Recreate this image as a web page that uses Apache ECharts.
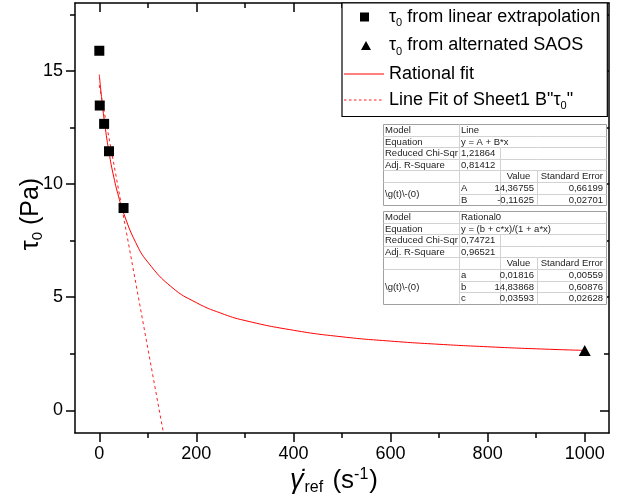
<!DOCTYPE html>
<html>
<head>
<meta charset="utf-8">
<script src="https://cdn.jsdelivr.net/npm/echarts@6/dist/echarts.min.js"></script>
<style>html,body{margin:0;padding:0;background:#fff}#c{width:620px;height:498px}</style>
</head>
<body>
<div id="c"></div>
<script>
// ---- data ----
const linX = [0.1, 1, 10, 20, 50];
const linY = [15.89, 13.47, 12.66, 11.45, 8.94];
const saosX = [1000];
const saosY = [2.64];
const ratX = [0, 5, 10, 20, 30, 40, 50, 75, 100, 150, 200, 250, 300, 400, 500, 600, 700, 800, 900, 1000];
const ratY = [14.84, 13.77, 12.86, 11.41, 10.30, 9.43, 8.72, 7.42, 6.55, 5.43, 4.76, 4.30, 3.97, 3.54, 3.25, 3.06, 2.92, 2.81, 2.72, 2.65];
const fitX = [0, 132.2];
const fitY = [14.37, -1.0];
const xMajor = [0, 200, 400, 600, 800, 1000];
const xMinor = [100, 300, 500, 700, 900];
const yMajor = [0, 5, 10, 15];
const yMinor = [2.5, 7.5, 12.5, 17.5];
const tableLine = [
  ['Model', 'Line', null, null],
  ['Equation', 'y = A + B*x', null, null],
  ['Reduced Chi-Sqr', '1,21864', '', null],
  ['Adj. R-Square', '0,81412', '', null],
  ['', '', 'Value', 'Standard Error'],
  ['\\g(t)\\-(0)', 'A', '14,36755', '0,66199'],
  ['^', 'B', '-0,11625', '0,02701']
];
const tableRational = [
  ['Model', 'Rational0', null, null],
  ['Equation', 'y = (b + c*x)/(1 + a*x)', null, null],
  ['Reduced Chi-Sqr', '0,74721', '', null],
  ['Adj. R-Square', '0,96521', '', null],
  ['', '', 'Value', 'Standard Error'],
  ['\\g(t)\\-(0)', 'a', '0,01816', '0,00559'],
  ['^', 'b', '14,83868', '0,60876'],
  ['^', 'c', '0,03593', '0,02628']
];

const FONT = '"Liberation Sans", Arial, sans-serif';
const zip = (a, b) => a.map((v, i) => [v, b[i]]);

// ---- tables as graphic ----
const colX = [383, 459, 500, 537, 606];
const rowH = 11.6;
function buildTable(rows, top) {
  const els = [];
  const n = rows.length;
  const px = v => Math.round(v) + 0.5;
  els.push({type: 'rect', z: 100, shape: {x: px(colX[0]), y: px(top), width: colX[4] - colX[0], height: Math.round(n * rowH)},
    style: {fill: '#fff', stroke: '#a0a0a0', lineWidth: 1}});
  for (let r = 0; r < n; r++) {
    const y0 = top + r * rowH;
    for (let c = 1; c < 4; c++) {
      if (rows[r][c] !== null) {
        els.push({type: 'line', z: 101, shape: {x1: px(colX[c]), y1: px(y0), x2: px(colX[c]), y2: px(y0 + rowH)},
          style: {stroke: '#d2d2d2', lineWidth: 1}});
      }
    }
    if (r > 0) {
      for (let c = 0; c < 4; c++) {
        if (rows[r][c] !== '^') {
          els.push({type: 'line', z: 101, shape: {x1: px(colX[c]), y1: px(y0), x2: px(colX[c + 1]), y2: px(y0)},
            style: {stroke: '#d2d2d2', lineWidth: 1}});
        }
      }
    }
    for (let c = 0; c < 4; c++) {
      const t = rows[r][c];
      if (t === null || t === '^' || t === '') continue;
      let cs = 1; while (c + cs < 4 && rows[r][c + cs] === null) cs++;
      let rs = 1; while (r + rs < n && rows[r + rs][c] === '^') rs++;
      let x, align;
      if (c <= 1) { x = colX[c] + 2; align = 'left'; }
      else if (t === 'Value') { x = (colX[c] + colX[c + cs]) / 2; align = 'center'; }
      else { x = colX[c + cs] - 3; align = 'right'; }
      els.push({type: 'text', z: 102, style: {text: t, x: x, y: y0 + rs * rowH / 2 + 0.5, font: '9.5px ' + FONT,
        fill: '#222', align: align, verticalAlign: 'middle'}});
    }
  }
  return els;
}

// ---- legend icons (40 x 9 boxes, corner anchors keep the box) ----
const ANCH = 'M0,0L0.01,0M40,9L39.99,9';
const iconSquare = 'path://' + ANCH + 'M16,0L25,0L25,9L16,9Z';
const iconTri = 'path://' + ANCH + 'M22,0L27,9L17,9Z';
const iconLine = 'path://' + ANCH + 'M0,4L40,4L40,5L0,5Z';
let dash = '';
for (let x = 0; x < 40; x += 5) dash += 'M' + x + ',4L' + (x + 2.5) + ',4L' + (x + 2.5) + ',5L' + x + ',5Z';
const iconDash = 'path://' + ANCH + dash;

const legendRich = {
  n: {fontSize: 18, lineHeight: 24, fontFamily: FONT, color: '#000'},
  s: {fontSize: 11, padding: [12, 0, 0, 0], fontFamily: FONT, color: '#000'}
};
const legendText = {
  lin: '{n|τ}{s|0}{n| from linear extrapolation}',
  saos: '{n|τ}{s|0}{n| from alternated SAOS}',
  rat: '{n|Rational fit}',
  fit: '{n|Line Fit of Sheet1 B"τ}{s|0}{n|"}'
};

const axisLineStyle = {show: true, onZero: false, lineStyle: {color: '#000', width: 1.5}};
function tickAxis(kind, pos, vals, len, inside, main) {
  return {
    type: 'value', position: pos,
    min: kind === 'x' ? -50 : -1, max: kind === 'x' ? 1050 : 18,
    splitLine: {show: false},
    axisLine: main ? axisLineStyle : {show: false, onZero: false},
    axisTick: {show: true, inside: inside, length: len, customValues: vals, lineStyle: {color: '#000', width: 1.5}},
    axisLabel: {show: false}
  };
}
const xAxes = [
  tickAxis('x', 'bottom', xMajor, 9, false, true),
  tickAxis('x', 'bottom', xMinor, 5, false, false),
  tickAxis('x', 'top', xMajor, 9, true, true),
  tickAxis('x', 'top', xMinor, 5, true, false)
];
xAxes[0].axisLabel = {show: true, customValues: xMajor, formatter: v => String(v), fontSize: 18, fontFamily: FONT, color: '#000', margin: 12};
xAxes[0].name = '{g|γ\u0307}{sub|ref}{n| (s}{sup|-1}{n|)}';
xAxes[0].nameLocation = 'middle';
xAxes[0].nameGap = 32;
xAxes[0].nameMoveOverlap = false;
xAxes[0].nameTextStyle = {
  padding: [0, 16, 0, 0],
  rich: {
    g: {fontSize: 27, fontStyle: 'italic', fontFamily: FONT, color: '#000', lineHeight: 30},
    n: {fontSize: 26, fontFamily: FONT, color: '#000', lineHeight: 30},
    sub: {fontSize: 16, fontFamily: FONT, color: '#000', padding: [15, 2, 0, 1]},
    sup: {fontSize: 16, fontFamily: FONT, color: '#000', padding: [0, 1, 12, 0]}
  }
};
const yAxes = [
  tickAxis('y', 'left', yMajor, 9, false, true),
  tickAxis('y', 'left', yMinor, 5, false, false),
  tickAxis('y', 'right', yMajor, 9, true, true),
  tickAxis('y', 'right', yMinor, 5, true, false)
];
yAxes[0].axisLabel = {show: true, customValues: yMajor, formatter: v => String(v), fontSize: 18, fontFamily: FONT, color: '#000', margin: 12};
yAxes[0].name = '{n|τ}{sub|0}{n| (Pa)}';
yAxes[0].nameLocation = 'middle';
yAxes[0].nameGap = 29;
yAxes[0].nameMoveOverlap = false;
yAxes[0].nameTextStyle = {
  padding: [0, 0, 0, 8],
  rich: {
    n: {fontSize: 25, fontFamily: FONT, color: '#000', lineHeight: 30},
    sub: {fontSize: 15, fontFamily: FONT, color: '#000', padding: [14, 0, 0, 0]}
  }
};

const chart = echarts.init(document.getElementById('c'), null, {renderer: 'canvas'});
chart.setOption({
  animation: false,
  backgroundColor: '#fff',
  grid: {left: 75, right: 11, top: 3, bottom: 65, containLabel: false, outerBoundsMode: 'none'},
  xAxis: xAxes,
  yAxis: yAxes,
  legend: {
    data: [
      {name: 'lin', icon: iconSquare},
      {name: 'saos', icon: iconTri},
      {name: 'rat', icon: iconLine},
      {name: 'fit', icon: iconDash}
    ],
    orient: 'vertical', left: 342, top: 3,
    padding: [5, 7, 5, 2], itemGap: 8, itemWidth: 40, itemHeight: 9,
    backgroundColor: '#fff', borderColor: '#000', borderWidth: 1.2,
    formatter: name => legendText[name],
    textStyle: {fontSize: 18, fontFamily: FONT, color: '#000', rich: legendRich},
    z: 50
  },
  graphic: buildTable(tableLine, 124).concat(buildTable(tableRational, 211)),
  series: [
    {name: 'lin', type: 'scatter', symbol: 'rect', symbolSize: 10, itemStyle: {color: '#000', opacity: 1}, data: zip(linX, linY), z: 5},
    {name: 'saos', type: 'scatter', symbol: 'triangle', symbolSize: [12, 11], itemStyle: {color: '#000', opacity: 1}, data: zip(saosX, saosY), z: 5},
    {name: 'rat', type: 'line', smooth: true, symbol: 'none', lineStyle: {color: '#ff0000', width: 1}, itemStyle: {color: '#ff0000'}, data: zip(ratX, ratY), z: 3},
    {name: 'fit', type: 'line', symbol: 'none', lineStyle: {color: '#ff2020', width: 1, type: [3, 3]}, itemStyle: {color: '#ff2020'}, data: zip(fitX, fitY), z: 3}
  ]
});
</script>
</body>
</html>
